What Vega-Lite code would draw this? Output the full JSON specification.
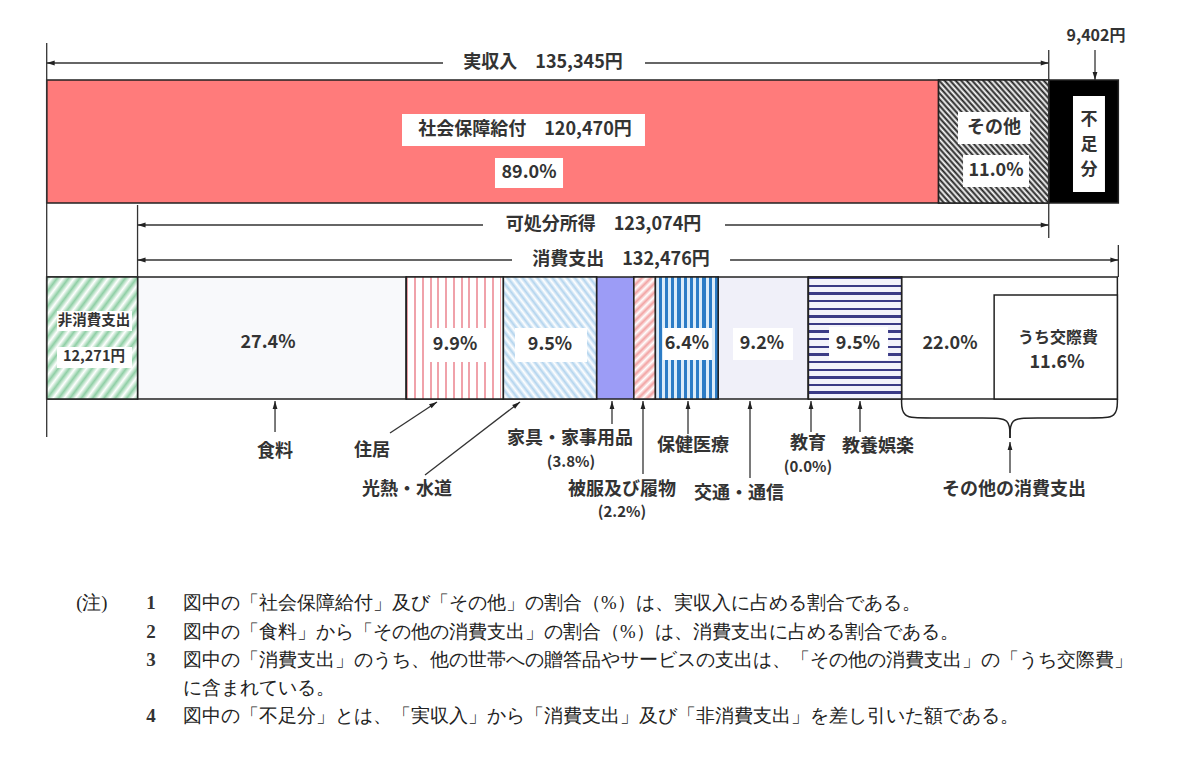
{
  "$schema": "https://vega.github.io/schema/vega-lite/v6.json",
  "width": 1200,
  "height": 758,
  "padding": 0,
  "autosize": {"type": "fit", "contains": "padding"},
  "background": "#ffffff",
  "config": {"view": {"stroke": null}, "text": {"font": "Noto Sans CJK JP"}},
  "datasets": {
    "segments": [
      {"row": "top", "item": "社会保障給付", "order": 1, "amount": 120470},
      {"row": "top", "item": "その他", "order": 2, "amount": 14875},
      {"row": "top", "item": "不足分", "order": 3, "amount": 9402},
      {"row": "bottom", "item": "非消費支出", "order": 1, "amount": 12271},
      {"row": "bottom", "item": "食料", "order": 2, "pct": 27.4},
      {"row": "bottom", "item": "住居", "order": 3, "pct": 9.9},
      {"row": "bottom", "item": "光熱・水道", "order": 4, "pct": 9.5},
      {"row": "bottom", "item": "家具・家事用品", "order": 5, "pct": 3.8},
      {"row": "bottom", "item": "被服及び履物", "order": 6, "pct": 2.2},
      {"row": "bottom", "item": "保健医療", "order": 7, "pct": 6.4},
      {"row": "bottom", "item": "交通・通信", "order": 8, "pct": 9.2},
      {"row": "bottom", "item": "教育", "order": 9, "pct": 0.0},
      {"row": "bottom", "item": "教養娯楽", "order": 10, "pct": 9.5},
      {"row": "bottom", "item": "その他の消費支出", "order": 11, "pct": 22.0}
    ],
    "boxes": [
      {"x": 47990, "x2": 80810, "y": 114, "y2": 146},
      {"x": 60550, "x2": 69740, "y": 158, "y2": 188},
      {"x": 123090, "x2": 132820, "y": 112, "y2": 144},
      {"x": 123770, "x2": 132680, "y": 155, "y2": 187},
      {"x": 138620, "x2": 142940, "y": 96, "y2": 192},
      {"x": 1390, "x2": 11520, "y": 311, "y2": 331},
      {"x": 1390, "x2": 11520, "y": 347, "y2": 368},
      {"x": 51100, "x2": 59610, "y": 328, "y2": 362},
      {"x": 63250, "x2": 72980, "y": 328, "y2": 362},
      {"x": 83240, "x2": 89860, "y": 328, "y2": 360},
      {"x": 92700, "x2": 100810, "y": 328, "y2": 360},
      {"x": 105670, "x2": 113640, "y": 327, "y2": 360}
    ],
    "frames": [
      {"x": 127970, "x2": 144614, "y": 295, "y2": 399}
    ],
    "guides": [
      {"x": 0, "y": 43, "y2": 437},
      {"x": 135345, "y": 50, "y2": 238},
      {"x": 12271, "y": 205, "y2": 277},
      {"x": 144747, "y": 245, "y2": 277}
    ],
    "spans": [
      {"text": "実収入　135,345円", "x": 0, "x2": 135345, "y": 63, "gapFrom": 53530, "gapTo": 80810, "tx": 67040},
      {"text": "可処分所得　123,074円", "x": 12271, "x2": 135345, "y": 225, "gapFrom": 58930, "gapTo": 91620, "tx": 75210},
      {"text": "消費支出　132,476円", "x": 12271, "x2": 144747, "y": 260, "gapFrom": 62850, "gapTo": 92300, "tx": 77570}
    ],
    "callouts": [
      {"x": 30840, "y": 432, "xTip": 30840, "yTip": 401, "angle": 0},
      {"x": 46370, "y": 433, "xTip": 52720, "yTip": 402, "angle": 57},
      {"x": 51100, "y": 475, "xTip": 63930, "yTip": 402, "angle": 53},
      {"x": 76355, "y": 424, "xTip": 76355, "yTip": 401, "angle": 0},
      {"x": 80542, "y": 474, "xTip": 80542, "yTip": 401, "angle": 0},
      {"x": 86621, "y": 434, "xTip": 86621, "yTip": 401, "angle": 0},
      {"x": 94995, "y": 478, "xTip": 94995, "yTip": 401, "angle": 0},
      {"x": 103234, "y": 432, "xTip": 103234, "yTip": 401, "angle": 0},
      {"x": 109852, "y": 432, "xTip": 109852, "yTip": 401, "angle": 0},
      {"x": 130113, "y": 473, "xTip": 130113, "yTip": 442, "angle": 0},
      {"x": 141594, "y": 50, "xTip": 141594, "yTip": 80, "angle": 180}
    ],
    "brace": [
      {"part": "L", "i": 0, "x": 115468, "y": 399},
      {"part": "L", "i": 1, "x": 115468, "y": 418},
      {"part": "L", "i": 2, "x": 118632, "y": 418},
      {"part": "L", "i": 3, "x": 127411, "y": 418},
      {"part": "L", "i": 4, "x": 130113, "y": 418},
      {"part": "L", "i": 5, "x": 130113, "y": 438},
      {"part": "R", "i": 0, "x": 130113, "y": 438},
      {"part": "R", "i": 1, "x": 130113, "y": 418},
      {"part": "R", "i": 2, "x": 132815, "y": 418},
      {"part": "R", "i": 3, "x": 141594, "y": 418},
      {"part": "R", "i": 4, "x": 144614, "y": 418},
      {"part": "R", "i": 5, "x": 144614, "y": 399}
    ],
    "labels": [
      {"kind": "b", "text": "社会保障給付　120,470円", "x": 64600, "y": 130},
      {"kind": "b", "text": "89.0%", "x": 65140, "y": 173},
      {"kind": "b", "text": "その他", "x": 127960, "y": 128},
      {"kind": "b", "text": "11.0%", "x": 128220, "y": 171},
      {"kind": "b", "text": "27.4%", "x": 29890, "y": 343},
      {"kind": "b", "text": "9.9%", "x": 55150, "y": 345},
      {"kind": "b", "text": "9.5%", "x": 67980, "y": 345},
      {"kind": "b", "text": "6.4%", "x": 86480, "y": 344},
      {"kind": "b", "text": "9.2%", "x": 96610, "y": 344},
      {"kind": "b", "text": "9.5%", "x": 109580, "y": 344},
      {"kind": "b", "text": "22.0%", "x": 122010, "y": 344},
      {"kind": "b", "text": "11.6%", "x": 136460, "y": 363},
      {"kind": "b", "text": "食料", "x": 30840, "y": 452},
      {"kind": "b", "text": "住居", "x": 43940, "y": 451},
      {"kind": "b", "text": "光熱・水道", "x": 48660, "y": 490},
      {"kind": "b", "text": "家具・家事用品", "x": 70680, "y": 439},
      {"kind": "b", "text": "被服及び履物", "x": 77700, "y": 490},
      {"kind": "b", "text": "保健医療", "x": 87300, "y": 446},
      {"kind": "b", "text": "交通・通信", "x": 93510, "y": 494},
      {"kind": "b", "text": "教育", "x": 102830, "y": 444},
      {"kind": "b", "text": "教養娯楽", "x": 112280, "y": 447},
      {"kind": "b", "text": "その他の消費支出", "x": 130650, "y": 490},
      {"kind": "m", "text": "うち交際費", "x": 136600, "y": 338},
      {"kind": "m", "text": "9,402円", "x": 141730, "y": 36},
      {"kind": "s", "text": "非消費支出", "x": 6388, "y": 321},
      {"kind": "s", "text": "12,271円", "x": 6388, "y": 357},
      {"kind": "p", "text": "(3.8%)", "x": 70820, "y": 462},
      {"kind": "p", "text": "(2.2%)", "x": 77700, "y": 512},
      {"kind": "p", "text": "(0.0%)", "x": 102830, "y": 467},
      {"kind": "v", "text": "不\n足\n分", "x": 140780, "y": 120}
    ],
    "notes": [
      {"num": "1", "text": "図中の「社会保障給付」及び「その他」の割合（%）は、実収入に占める割合である。", "y": 603},
      {"num": "2", "text": "図中の「食料」から「その他の消費支出」の割合（%）は、消費支出に占める割合である。", "y": 632},
      {"num": "3", "text": "図中の「消費支出」のうち、他の世帯への贈答品やサービスの支出は、「その他の消費支出」の「うち交際費」", "y": 660},
      {"num": "", "text": "に含まれている。", "y": 688},
      {"num": "4", "text": "図中の「不足分」とは、「実収入」から「消費支出」及び「非消費支出」を差し引いた額である。", "y": 716}
    ]
  },
  "encoding": {
    "x": {"field": "x", "type": "quantitative", "scale": {"domain": [-6308, 155776], "nice": false, "zero": false}, "axis": null},
    "y": {"field": "y", "type": "quantitative", "scale": {"domain": [0, 758], "reverse": true, "nice": false, "zero": false}, "axis": null}
  },
  "layer": [
    {
      "data": {"name": "segments"},
      "transform": [
        {"calculate": "isValid(datum.pct) ? datum.pct / 100 * 132476 : datum.amount", "as": "amt"},
        {"stack": "amt", "groupby": ["row"], "sort": [{"field": "order", "order": "ascending"}], "as": ["x", "x2"]},
        {"calculate": "datum.row === 'top' ? 80 : 277", "as": "y"},
        {"calculate": "datum.row === 'top' ? 203 : 399", "as": "y2"}
      ],
      "layer": [
        {
          "mark": {"type": "rect", "stroke": "#222222", "strokeWidth": 1.5},
          "encoding": {
            "x2": {"field": "x2"},
            "y2": {"field": "y2"},
            "fill": {
              "field": "item", "type": "nominal", "legend": null,
              "scale": {
                "domain": ["社会保障給付", "その他", "不足分", "非消費支出", "食料", "住居", "光熱・水道", "家具・家事用品", "被服及び履物", "保健医療", "交通・通信", "教育", "教養娯楽", "その他の消費支出"],
                "range": ["#ff7b7b", "#808080", "#000000", "#c5e8d0", "#f8f9fb", "#fde8ea", "#e3eff9", "#9c9cf6", "#fbe0e0", "#7fb3e0", "#f0f0f9", "#ffffff", "#b0b0d4", "#ffffff"]
              }
            }
          }
        },
        {
          "transform": [{"filter": "datum.item === 'その他'"}],
          "mark": {"type": "rect", "stroke": "#222222", "strokeWidth": 1.5,
            "fill": {"gradient": "linear", "x1": 0, "y1": 1, "x2": 1, "y2": 0, "stops": [
              {"offset": 0, "color": "#1e1e1e"}, {"offset": 0.0125, "color": "#ffffff"}, {"offset": 0.025, "color": "#1e1e1e"}, {"offset": 0.0375, "color": "#ffffff"},
              {"offset": 0.05, "color": "#1e1e1e"}, {"offset": 0.0625, "color": "#ffffff"}, {"offset": 0.075, "color": "#1e1e1e"}, {"offset": 0.0875, "color": "#ffffff"},
              {"offset": 0.1, "color": "#1e1e1e"}, {"offset": 0.1125, "color": "#ffffff"}, {"offset": 0.125, "color": "#1e1e1e"}, {"offset": 0.1375, "color": "#ffffff"},
              {"offset": 0.15, "color": "#1e1e1e"}, {"offset": 0.1625, "color": "#ffffff"}, {"offset": 0.175, "color": "#1e1e1e"}, {"offset": 0.1875, "color": "#ffffff"},
              {"offset": 0.2, "color": "#1e1e1e"}, {"offset": 0.2125, "color": "#ffffff"}, {"offset": 0.225, "color": "#1e1e1e"}, {"offset": 0.2375, "color": "#ffffff"},
              {"offset": 0.25, "color": "#1e1e1e"}, {"offset": 0.2625, "color": "#ffffff"}, {"offset": 0.275, "color": "#1e1e1e"}, {"offset": 0.2875, "color": "#ffffff"},
              {"offset": 0.3, "color": "#1e1e1e"}, {"offset": 0.3125, "color": "#ffffff"}, {"offset": 0.325, "color": "#1e1e1e"}, {"offset": 0.3375, "color": "#ffffff"},
              {"offset": 0.35, "color": "#1e1e1e"}, {"offset": 0.3625, "color": "#ffffff"}, {"offset": 0.375, "color": "#1e1e1e"}, {"offset": 0.3875, "color": "#ffffff"},
              {"offset": 0.4, "color": "#1e1e1e"}, {"offset": 0.4125, "color": "#ffffff"}, {"offset": 0.425, "color": "#1e1e1e"}, {"offset": 0.4375, "color": "#ffffff"},
              {"offset": 0.45, "color": "#1e1e1e"}, {"offset": 0.4625, "color": "#ffffff"}, {"offset": 0.475, "color": "#1e1e1e"}, {"offset": 0.4875, "color": "#ffffff"},
              {"offset": 0.5, "color": "#1e1e1e"}, {"offset": 0.5125, "color": "#ffffff"}, {"offset": 0.525, "color": "#1e1e1e"}, {"offset": 0.5375, "color": "#ffffff"},
              {"offset": 0.55, "color": "#1e1e1e"}, {"offset": 0.5625, "color": "#ffffff"}, {"offset": 0.575, "color": "#1e1e1e"}, {"offset": 0.5875, "color": "#ffffff"},
              {"offset": 0.6, "color": "#1e1e1e"}, {"offset": 0.6125, "color": "#ffffff"}, {"offset": 0.625, "color": "#1e1e1e"}, {"offset": 0.6375, "color": "#ffffff"},
              {"offset": 0.65, "color": "#1e1e1e"}, {"offset": 0.6625, "color": "#ffffff"}, {"offset": 0.675, "color": "#1e1e1e"}, {"offset": 0.6875, "color": "#ffffff"},
              {"offset": 0.7, "color": "#1e1e1e"}, {"offset": 0.7125, "color": "#ffffff"}, {"offset": 0.725, "color": "#1e1e1e"}, {"offset": 0.7375, "color": "#ffffff"},
              {"offset": 0.75, "color": "#1e1e1e"}, {"offset": 0.7625, "color": "#ffffff"}, {"offset": 0.775, "color": "#1e1e1e"}, {"offset": 0.7875, "color": "#ffffff"},
              {"offset": 0.8, "color": "#1e1e1e"}, {"offset": 0.8125, "color": "#ffffff"}, {"offset": 0.825, "color": "#1e1e1e"}, {"offset": 0.8375, "color": "#ffffff"},
              {"offset": 0.85, "color": "#1e1e1e"}, {"offset": 0.8625, "color": "#ffffff"}, {"offset": 0.875, "color": "#1e1e1e"}, {"offset": 0.8875, "color": "#ffffff"},
              {"offset": 0.9, "color": "#1e1e1e"}, {"offset": 0.9125, "color": "#ffffff"}, {"offset": 0.925, "color": "#1e1e1e"}, {"offset": 0.9375, "color": "#ffffff"},
              {"offset": 0.95, "color": "#1e1e1e"}, {"offset": 0.9625, "color": "#ffffff"}, {"offset": 0.975, "color": "#1e1e1e"}, {"offset": 0.9875, "color": "#ffffff"},
              {"offset": 1, "color": "#1e1e1e"}
            ]}
          },
          "encoding": {"x2": {"field": "x2"}, "y2": {"field": "y2"}}
        },
        {
          "transform": [{"filter": "datum.item === '非消費支出'"}],
          "mark": {"type": "rect", "stroke": "#222222", "strokeWidth": 1.5,
            "fill": {"gradient": "linear", "x1": 0, "y1": 0, "x2": 1, "y2": 1, "stops": [
              {"offset": 0, "color": "#8fcfa5"}, {"offset": 0.03125, "color": "#ffffff"}, {"offset": 0.0625, "color": "#8fcfa5"}, {"offset": 0.09375, "color": "#ffffff"},
              {"offset": 0.125, "color": "#8fcfa5"}, {"offset": 0.15625, "color": "#ffffff"}, {"offset": 0.1875, "color": "#8fcfa5"}, {"offset": 0.21875, "color": "#ffffff"},
              {"offset": 0.25, "color": "#8fcfa5"}, {"offset": 0.28125, "color": "#ffffff"}, {"offset": 0.3125, "color": "#8fcfa5"}, {"offset": 0.34375, "color": "#ffffff"},
              {"offset": 0.375, "color": "#8fcfa5"}, {"offset": 0.40625, "color": "#ffffff"}, {"offset": 0.4375, "color": "#8fcfa5"}, {"offset": 0.46875, "color": "#ffffff"},
              {"offset": 0.5, "color": "#8fcfa5"}, {"offset": 0.53125, "color": "#ffffff"}, {"offset": 0.5625, "color": "#8fcfa5"}, {"offset": 0.59375, "color": "#ffffff"},
              {"offset": 0.625, "color": "#8fcfa5"}, {"offset": 0.65625, "color": "#ffffff"}, {"offset": 0.6875, "color": "#8fcfa5"}, {"offset": 0.71875, "color": "#ffffff"},
              {"offset": 0.75, "color": "#8fcfa5"}, {"offset": 0.78125, "color": "#ffffff"}, {"offset": 0.8125, "color": "#8fcfa5"}, {"offset": 0.84375, "color": "#ffffff"},
              {"offset": 0.875, "color": "#8fcfa5"}, {"offset": 0.90625, "color": "#ffffff"}, {"offset": 0.9375, "color": "#8fcfa5"}, {"offset": 0.96875, "color": "#ffffff"},
              {"offset": 1, "color": "#8fcfa5"}
            ]}
          },
          "encoding": {"x2": {"field": "x2"}, "y2": {"field": "y2"}}
        },
        {
          "transform": [{"filter": "datum.item === '住居'"}],
          "mark": {"type": "rect", "stroke": "#222222", "strokeWidth": 1.5,
            "fill": {"gradient": "linear", "x1": 0, "y1": 0, "x2": 1, "y2": 0, "stops": [
              {"offset": 0, "color": "#f0a2aa"}, {"offset": 0.02, "color": "#f0a2aa"}, {"offset": 0.02, "color": "#ffffff"}, {"offset": 0.08, "color": "#ffffff"},
              {"offset": 0.08, "color": "#f0a2aa"}, {"offset": 0.1, "color": "#f0a2aa"}, {"offset": 0.1, "color": "#ffffff"}, {"offset": 0.16, "color": "#ffffff"},
              {"offset": 0.16, "color": "#f0a2aa"}, {"offset": 0.18, "color": "#f0a2aa"}, {"offset": 0.18, "color": "#ffffff"}, {"offset": 0.24, "color": "#ffffff"},
              {"offset": 0.24, "color": "#f0a2aa"}, {"offset": 0.26, "color": "#f0a2aa"}, {"offset": 0.26, "color": "#ffffff"}, {"offset": 0.32, "color": "#ffffff"},
              {"offset": 0.32, "color": "#f0a2aa"}, {"offset": 0.34, "color": "#f0a2aa"}, {"offset": 0.34, "color": "#ffffff"}, {"offset": 0.4, "color": "#ffffff"},
              {"offset": 0.4, "color": "#f0a2aa"}, {"offset": 0.42, "color": "#f0a2aa"}, {"offset": 0.42, "color": "#ffffff"}, {"offset": 0.48, "color": "#ffffff"},
              {"offset": 0.48, "color": "#f0a2aa"}, {"offset": 0.5, "color": "#f0a2aa"}, {"offset": 0.5, "color": "#ffffff"}, {"offset": 0.56, "color": "#ffffff"},
              {"offset": 0.56, "color": "#f0a2aa"}, {"offset": 0.58, "color": "#f0a2aa"}, {"offset": 0.58, "color": "#ffffff"}, {"offset": 0.64, "color": "#ffffff"},
              {"offset": 0.64, "color": "#f0a2aa"}, {"offset": 0.66, "color": "#f0a2aa"}, {"offset": 0.66, "color": "#ffffff"}, {"offset": 0.72, "color": "#ffffff"},
              {"offset": 0.72, "color": "#f0a2aa"}, {"offset": 0.74, "color": "#f0a2aa"}, {"offset": 0.74, "color": "#ffffff"}, {"offset": 0.8, "color": "#ffffff"},
              {"offset": 0.8, "color": "#f0a2aa"}, {"offset": 0.82, "color": "#f0a2aa"}, {"offset": 0.82, "color": "#ffffff"}, {"offset": 0.88, "color": "#ffffff"},
              {"offset": 0.88, "color": "#f0a2aa"}, {"offset": 0.9, "color": "#f0a2aa"}, {"offset": 0.9, "color": "#ffffff"}, {"offset": 0.96, "color": "#ffffff"},
              {"offset": 0.96, "color": "#f0a2aa"}, {"offset": 0.98, "color": "#f0a2aa"}, {"offset": 0.98, "color": "#ffffff"}, {"offset": 1, "color": "#ffffff"}
            ]}
          },
          "encoding": {"x2": {"field": "x2"}, "y2": {"field": "y2"}}
        },
        {
          "transform": [{"filter": "datum.item === '光熱・水道'"}],
          "mark": {"type": "rect", "stroke": "#222222", "strokeWidth": 1.5,
            "fill": {"gradient": "linear", "x1": 0, "y1": 1, "x2": 1, "y2": 0, "stops": [
              {"offset": 0, "color": "#b3d4ee"}, {"offset": 0.02, "color": "#ffffff"}, {"offset": 0.04, "color": "#b3d4ee"}, {"offset": 0.06, "color": "#ffffff"},
              {"offset": 0.08, "color": "#b3d4ee"}, {"offset": 0.1, "color": "#ffffff"}, {"offset": 0.12, "color": "#b3d4ee"}, {"offset": 0.14, "color": "#ffffff"},
              {"offset": 0.16, "color": "#b3d4ee"}, {"offset": 0.18, "color": "#ffffff"}, {"offset": 0.2, "color": "#b3d4ee"}, {"offset": 0.22, "color": "#ffffff"},
              {"offset": 0.24, "color": "#b3d4ee"}, {"offset": 0.26, "color": "#ffffff"}, {"offset": 0.28, "color": "#b3d4ee"}, {"offset": 0.3, "color": "#ffffff"},
              {"offset": 0.32, "color": "#b3d4ee"}, {"offset": 0.34, "color": "#ffffff"}, {"offset": 0.36, "color": "#b3d4ee"}, {"offset": 0.38, "color": "#ffffff"},
              {"offset": 0.4, "color": "#b3d4ee"}, {"offset": 0.42, "color": "#ffffff"}, {"offset": 0.44, "color": "#b3d4ee"}, {"offset": 0.46, "color": "#ffffff"},
              {"offset": 0.48, "color": "#b3d4ee"}, {"offset": 0.5, "color": "#ffffff"}, {"offset": 0.52, "color": "#b3d4ee"}, {"offset": 0.54, "color": "#ffffff"},
              {"offset": 0.56, "color": "#b3d4ee"}, {"offset": 0.58, "color": "#ffffff"}, {"offset": 0.6, "color": "#b3d4ee"}, {"offset": 0.62, "color": "#ffffff"},
              {"offset": 0.64, "color": "#b3d4ee"}, {"offset": 0.66, "color": "#ffffff"}, {"offset": 0.68, "color": "#b3d4ee"}, {"offset": 0.7, "color": "#ffffff"},
              {"offset": 0.72, "color": "#b3d4ee"}, {"offset": 0.74, "color": "#ffffff"}, {"offset": 0.76, "color": "#b3d4ee"}, {"offset": 0.78, "color": "#ffffff"},
              {"offset": 0.8, "color": "#b3d4ee"}, {"offset": 0.82, "color": "#ffffff"}, {"offset": 0.84, "color": "#b3d4ee"}, {"offset": 0.86, "color": "#ffffff"},
              {"offset": 0.88, "color": "#b3d4ee"}, {"offset": 0.9, "color": "#ffffff"}, {"offset": 0.92, "color": "#b3d4ee"}, {"offset": 0.94, "color": "#ffffff"},
              {"offset": 0.96, "color": "#b3d4ee"}, {"offset": 0.98, "color": "#ffffff"}, {"offset": 1, "color": "#b3d4ee"}
            ]}
          },
          "encoding": {"x2": {"field": "x2"}, "y2": {"field": "y2"}}
        },
        {
          "transform": [{"filter": "datum.item === '被服及び履物'"}],
          "mark": {"type": "rect", "stroke": "#222222", "strokeWidth": 1.5,
            "fill": {"gradient": "linear", "x1": 0, "y1": 0, "x2": 0.202, "y2": 1.142, "stops": [
              {"offset": 0, "color": "#f2a2a2"}, {"offset": 0.03125, "color": "#ffffff"}, {"offset": 0.0625, "color": "#f2a2a2"}, {"offset": 0.09375, "color": "#ffffff"},
              {"offset": 0.125, "color": "#f2a2a2"}, {"offset": 0.15625, "color": "#ffffff"}, {"offset": 0.1875, "color": "#f2a2a2"}, {"offset": 0.21875, "color": "#ffffff"},
              {"offset": 0.25, "color": "#f2a2a2"}, {"offset": 0.28125, "color": "#ffffff"}, {"offset": 0.3125, "color": "#f2a2a2"}, {"offset": 0.34375, "color": "#ffffff"},
              {"offset": 0.375, "color": "#f2a2a2"}, {"offset": 0.40625, "color": "#ffffff"}, {"offset": 0.4375, "color": "#f2a2a2"}, {"offset": 0.46875, "color": "#ffffff"},
              {"offset": 0.5, "color": "#f2a2a2"}, {"offset": 0.53125, "color": "#ffffff"}, {"offset": 0.5625, "color": "#f2a2a2"}, {"offset": 0.59375, "color": "#ffffff"},
              {"offset": 0.625, "color": "#f2a2a2"}, {"offset": 0.65625, "color": "#ffffff"}, {"offset": 0.6875, "color": "#f2a2a2"}, {"offset": 0.71875, "color": "#ffffff"},
              {"offset": 0.75, "color": "#f2a2a2"}, {"offset": 0.78125, "color": "#ffffff"}, {"offset": 0.8125, "color": "#f2a2a2"}, {"offset": 0.84375, "color": "#ffffff"},
              {"offset": 0.875, "color": "#f2a2a2"}, {"offset": 0.90625, "color": "#ffffff"}, {"offset": 0.9375, "color": "#f2a2a2"}, {"offset": 0.96875, "color": "#ffffff"},
              {"offset": 1, "color": "#f2a2a2"}
            ]}
          },
          "encoding": {"x2": {"field": "x2"}, "y2": {"field": "y2"}}
        },
        {
          "transform": [{"filter": "datum.item === '保健医療'"}],
          "mark": {"type": "rect", "stroke": "#222222", "strokeWidth": 1.5,
            "fill": {"gradient": "linear", "x1": 0, "y1": 0, "x2": 1, "y2": 0, "stops": [
              {"offset": 0, "color": "#dcecf9"}, {"offset": 0.05, "color": "#dcecf9"}, {"offset": 0.05, "color": "#2c7cc6"}, {"offset": 0.1, "color": "#2c7cc6"},
              {"offset": 0.1, "color": "#dcecf9"}, {"offset": 0.15, "color": "#dcecf9"}, {"offset": 0.15, "color": "#2c7cc6"}, {"offset": 0.2, "color": "#2c7cc6"},
              {"offset": 0.2, "color": "#dcecf9"}, {"offset": 0.25, "color": "#dcecf9"}, {"offset": 0.25, "color": "#2c7cc6"}, {"offset": 0.3, "color": "#2c7cc6"},
              {"offset": 0.3, "color": "#dcecf9"}, {"offset": 0.35, "color": "#dcecf9"}, {"offset": 0.35, "color": "#2c7cc6"}, {"offset": 0.4, "color": "#2c7cc6"},
              {"offset": 0.4, "color": "#dcecf9"}, {"offset": 0.45, "color": "#dcecf9"}, {"offset": 0.45, "color": "#2c7cc6"}, {"offset": 0.5, "color": "#2c7cc6"},
              {"offset": 0.5, "color": "#dcecf9"}, {"offset": 0.55, "color": "#dcecf9"}, {"offset": 0.55, "color": "#2c7cc6"}, {"offset": 0.6, "color": "#2c7cc6"},
              {"offset": 0.6, "color": "#dcecf9"}, {"offset": 0.65, "color": "#dcecf9"}, {"offset": 0.65, "color": "#2c7cc6"}, {"offset": 0.7, "color": "#2c7cc6"},
              {"offset": 0.7, "color": "#dcecf9"}, {"offset": 0.75, "color": "#dcecf9"}, {"offset": 0.75, "color": "#2c7cc6"}, {"offset": 0.8, "color": "#2c7cc6"},
              {"offset": 0.8, "color": "#dcecf9"}, {"offset": 0.85, "color": "#dcecf9"}, {"offset": 0.85, "color": "#2c7cc6"}, {"offset": 0.9, "color": "#2c7cc6"},
              {"offset": 0.9, "color": "#dcecf9"}, {"offset": 0.95, "color": "#dcecf9"}, {"offset": 0.95, "color": "#2c7cc6"}, {"offset": 1, "color": "#2c7cc6"}
            ]}
          },
          "encoding": {"x2": {"field": "x2"}, "y2": {"field": "y2"}}
        },
        {
          "transform": [{"filter": "datum.item === '教養娯楽'"}],
          "mark": {"type": "rect", "stroke": "#222222", "strokeWidth": 1.5,
            "fill": {"gradient": "linear", "x1": 0, "y1": 0, "x2": 0, "y2": 1, "stops": [
              {"offset": 0, "color": "#3b3b86"}, {"offset": 0.02, "color": "#3b3b86"}, {"offset": 0.02, "color": "#f3f3fb"}, {"offset": 0.0625, "color": "#f3f3fb"},
              {"offset": 0.0625, "color": "#3b3b86"}, {"offset": 0.0825, "color": "#3b3b86"}, {"offset": 0.0825, "color": "#f3f3fb"}, {"offset": 0.125, "color": "#f3f3fb"},
              {"offset": 0.125, "color": "#3b3b86"}, {"offset": 0.145, "color": "#3b3b86"}, {"offset": 0.145, "color": "#f3f3fb"}, {"offset": 0.1875, "color": "#f3f3fb"},
              {"offset": 0.1875, "color": "#3b3b86"}, {"offset": 0.2075, "color": "#3b3b86"}, {"offset": 0.2075, "color": "#f3f3fb"}, {"offset": 0.25, "color": "#f3f3fb"},
              {"offset": 0.25, "color": "#3b3b86"}, {"offset": 0.27, "color": "#3b3b86"}, {"offset": 0.27, "color": "#f3f3fb"}, {"offset": 0.3125, "color": "#f3f3fb"},
              {"offset": 0.3125, "color": "#3b3b86"}, {"offset": 0.3325, "color": "#3b3b86"}, {"offset": 0.3325, "color": "#f3f3fb"}, {"offset": 0.375, "color": "#f3f3fb"},
              {"offset": 0.375, "color": "#3b3b86"}, {"offset": 0.395, "color": "#3b3b86"}, {"offset": 0.395, "color": "#f3f3fb"}, {"offset": 0.4375, "color": "#f3f3fb"},
              {"offset": 0.4375, "color": "#3b3b86"}, {"offset": 0.4575, "color": "#3b3b86"}, {"offset": 0.4575, "color": "#f3f3fb"}, {"offset": 0.5, "color": "#f3f3fb"},
              {"offset": 0.5, "color": "#3b3b86"}, {"offset": 0.52, "color": "#3b3b86"}, {"offset": 0.52, "color": "#f3f3fb"}, {"offset": 0.5625, "color": "#f3f3fb"},
              {"offset": 0.5625, "color": "#3b3b86"}, {"offset": 0.5825, "color": "#3b3b86"}, {"offset": 0.5825, "color": "#f3f3fb"}, {"offset": 0.625, "color": "#f3f3fb"},
              {"offset": 0.625, "color": "#3b3b86"}, {"offset": 0.645, "color": "#3b3b86"}, {"offset": 0.645, "color": "#f3f3fb"}, {"offset": 0.6875, "color": "#f3f3fb"},
              {"offset": 0.6875, "color": "#3b3b86"}, {"offset": 0.7075, "color": "#3b3b86"}, {"offset": 0.7075, "color": "#f3f3fb"}, {"offset": 0.75, "color": "#f3f3fb"},
              {"offset": 0.75, "color": "#3b3b86"}, {"offset": 0.77, "color": "#3b3b86"}, {"offset": 0.77, "color": "#f3f3fb"}, {"offset": 0.8125, "color": "#f3f3fb"},
              {"offset": 0.8125, "color": "#3b3b86"}, {"offset": 0.8325, "color": "#3b3b86"}, {"offset": 0.8325, "color": "#f3f3fb"}, {"offset": 0.875, "color": "#f3f3fb"},
              {"offset": 0.875, "color": "#3b3b86"}, {"offset": 0.895, "color": "#3b3b86"}, {"offset": 0.895, "color": "#f3f3fb"}, {"offset": 0.9375, "color": "#f3f3fb"},
              {"offset": 0.9375, "color": "#3b3b86"}, {"offset": 0.9575, "color": "#3b3b86"}, {"offset": 0.9575, "color": "#f3f3fb"}, {"offset": 1, "color": "#f3f3fb"}
            ]}
          },
          "encoding": {"x2": {"field": "x2"}, "y2": {"field": "y2"}}
        }
      ]
    },
    {
      "data": {"name": "boxes"},
      "mark": {"type": "rect", "fill": "#ffffff"},
      "encoding": {"x2": {"field": "x2"}, "y2": {"field": "y2"}}
    },
    {
      "data": {"name": "frames"},
      "mark": {"type": "rect", "fill": "#ffffff", "stroke": "#222222", "strokeWidth": 1.5},
      "encoding": {"x2": {"field": "x2"}, "y2": {"field": "y2"}}
    },
    {
      "data": {"name": "guides"},
      "mark": {"type": "rule", "color": "#333333", "strokeWidth": 1.3},
      "encoding": {"y2": {"field": "y2"}}
    },
    {
      "data": {"name": "spans"},
      "mark": {"type": "rule", "color": "#333333", "strokeWidth": 1.3},
      "encoding": {"x2": {"field": "gapFrom"}}
    },
    {
      "data": {"name": "spans"},
      "mark": {"type": "rule", "color": "#333333", "strokeWidth": 1.3},
      "encoding": {
        "x": {"field": "gapTo", "type": "quantitative", "scale": {"domain": [-6308, 155776], "nice": false, "zero": false}, "axis": null},
        "x2": {"field": "x2"}
      }
    },
    {
      "data": {"name": "spans"},
      "mark": {"type": "point", "shape": "M0,0L0.6,2L-0.6,2Z", "size": 64, "filled": true, "color": "#222222", "opacity": 1, "angle": 270}
    },
    {
      "data": {"name": "spans"},
      "mark": {"type": "point", "shape": "M0,0L0.6,2L-0.6,2Z", "size": 64, "filled": true, "color": "#222222", "opacity": 1, "angle": 90},
      "encoding": {
        "x": {"field": "x2", "type": "quantitative", "scale": {"domain": [-6308, 155776], "nice": false, "zero": false}, "axis": null}
      }
    },
    {
      "data": {"name": "spans"},
      "mark": {"type": "text", "fontSize": 18, "fontWeight": "bold", "color": "#333333", "align": "center", "baseline": "middle"},
      "encoding": {
        "x": {"field": "tx", "type": "quantitative", "scale": {"domain": [-6308, 155776], "nice": false, "zero": false}, "axis": null},
        "text": {"field": "text"}
      }
    },
    {
      "data": {"name": "callouts"},
      "mark": {"type": "rule", "color": "#333333", "strokeWidth": 1.3},
      "encoding": {"x2": {"field": "xTip"}, "y2": {"field": "yTip"}}
    },
    {
      "data": {"name": "callouts"},
      "mark": {"type": "point", "shape": "M0,0L0.6,2L-0.6,2Z", "size": 64, "filled": true, "color": "#222222", "opacity": 1},
      "encoding": {
        "x": {"field": "xTip", "type": "quantitative", "scale": {"domain": [-6308, 155776], "nice": false, "zero": false}, "axis": null},
        "y": {"field": "yTip", "type": "quantitative", "scale": {"domain": [0, 758], "reverse": true, "nice": false, "zero": false}, "axis": null},
        "angle": {"field": "angle", "type": "quantitative", "scale": null}
      }
    },
    {
      "data": {"name": "brace"},
      "mark": {"type": "line", "interpolate": "basis", "color": "#222222", "strokeWidth": 1.5},
      "encoding": {"detail": {"field": "part"}, "order": {"field": "i"}}
    },
    {
      "data": {"name": "labels"},
      "transform": [{"filter": "datum.kind === 'b'"}],
      "mark": {"type": "text", "fontSize": 18, "fontWeight": "bold", "color": "#333333", "align": "center", "baseline": "middle"},
      "encoding": {"text": {"field": "text"}}
    },
    {
      "data": {"name": "labels"},
      "transform": [{"filter": "datum.kind === 'm'"}],
      "mark": {"type": "text", "fontSize": 16, "fontWeight": "bold", "color": "#333333", "align": "center", "baseline": "middle"},
      "encoding": {"text": {"field": "text"}}
    },
    {
      "data": {"name": "labels"},
      "transform": [{"filter": "datum.kind === 's'"}],
      "mark": {"type": "text", "fontSize": 14.5, "fontWeight": "bold", "color": "#333333", "align": "center", "baseline": "middle"},
      "encoding": {"text": {"field": "text"}}
    },
    {
      "data": {"name": "labels"},
      "transform": [{"filter": "datum.kind === 'p'"}],
      "mark": {"type": "text", "fontSize": 15, "fontWeight": "bold", "color": "#333333", "align": "center", "baseline": "middle"},
      "encoding": {"text": {"field": "text"}}
    },
    {
      "data": {"name": "labels"},
      "transform": [{"filter": "datum.kind === 'v'"}],
      "mark": {"type": "text", "fontSize": 17, "fontWeight": "bold", "color": "#333333", "align": "center", "baseline": "middle", "lineBreak": "\n", "lineHeight": 25},
      "encoding": {"text": {"field": "text"}}
    },
    {
      "data": {"name": "notes"},
      "transform": [
        {"filter": "datum.num === '1'"},
        {"calculate": "'(注)'", "as": "head"},
        {"calculate": "6100", "as": "x"}
      ],
      "mark": {"type": "text", "fontSize": 18.5, "font": "Liberation Serif", "color": "#222222", "align": "center", "baseline": "middle"},
      "encoding": {"text": {"field": "head"}}
    },
    {
      "data": {"name": "notes"},
      "transform": [{"calculate": "14090", "as": "x"}],
      "mark": {"type": "text", "fontSize": 19, "font": "Liberation Serif", "fontWeight": "bold", "color": "#333333", "align": "center", "baseline": "middle"},
      "encoding": {"text": {"field": "num"}}
    },
    {
      "data": {"name": "notes"},
      "transform": [{"calculate": "18410", "as": "x"}],
      "mark": {"type": "text", "fontSize": 18.8, "font": "Liberation Serif", "color": "#222222", "align": "left", "baseline": "middle"},
      "encoding": {"text": {"field": "text"}}
    }
  ]
}
